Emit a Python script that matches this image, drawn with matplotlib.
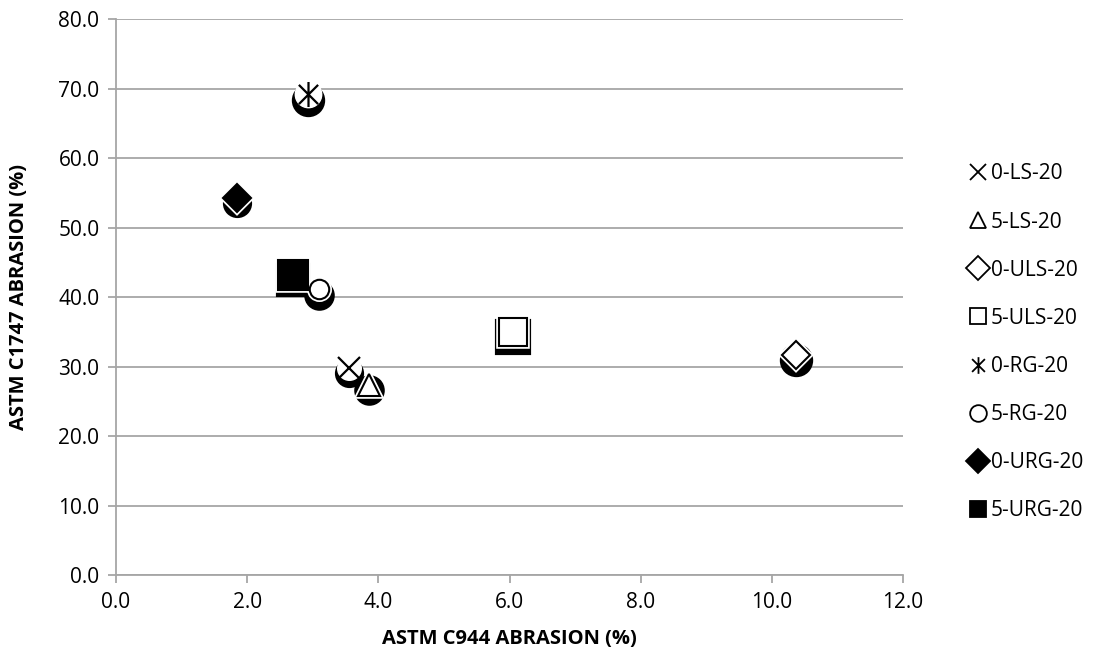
import matplotlib
matplotlib.use('Agg')
import matplotlib.pyplot as plt
import matplotlib.transforms as mtransforms
from matplotlib.path import Path
from matplotlib.lines import Line2D

series_names = ['0-LS-20', '5-LS-20', '0-ULS-20', '5-ULS-20',
                '0-RG-20', '5-RG-20', '0-URG-20', '5-URG-20']
c944_abrasion = [3.55, 3.85, 10.37, 6.06, 2.92, 3.10, 1.85, 2.70]
c1747_abrasion = [29.8, 27.4, 31.7, 35.0, 69.2, 41.1, 54.3, 43.2]

x_ticks = [0, 2, 4, 6, 8, 10, 12]
y_ticks = [0, 10, 20, 30, 40, 50, 60, 70, 80]

# excel style asterisk: X plus a vertical bar
asterisk = Path([(-1, -1), (1, 1), (-1, 1), (1, -1), (0, -1.3), (0, 1.3)],
                [Path.MOVETO, Path.LINETO, Path.MOVETO, Path.LINETO, Path.MOVETO, Path.LINETO])

# marker, filled, plot size, shadow marker, shadow size
styles = {
    '0-LS-20': ('x', False, 16, 'o', 18),
    '5-LS-20': ('^', False, 16, 'o', 19),
    '0-ULS-20': ('D', False, 14, 'o', 21),
    '5-ULS-20': ('s', False, 20, 's', 23),
    '0-RG-20': (asterisk, False, 18, 'o', 21),
    '5-RG-20': ('o', False, 14, 'o', 19),
    '0-URG-20': ('D', True, 14, 'o', 18),
    '5-URG-20': ('s', True, 21, 's', 22),
}

plt.rcParams['font.family'] = ['Open Sans', 'DejaVu Sans']

fig = plt.figure(figsize=(10.99, 6.62), dpi=100)
ax = fig.add_axes([0.1056, 0.1314, 0.7161, 0.8399])

grid_col = '#A6A6A6'
shadow_tr = ax.transData + mtransforms.ScaledTranslation(0, -4 / 72, fig.dpi_scale_trans)

for name, xv, yv in zip(series_names, c944_abrasion, c1747_abrasion):
    mk, filled, ms, smk, sms = styles[name]
    # black blob behind each point
    ax.plot([xv], [yv], linestyle='none', marker=smk, markersize=sms,
            markerfacecolor='black', markeredgecolor='black', markeredgewidth=3,
            transform=shadow_tr, zorder=3)
    face = 'black' if filled else 'white'
    line_mk = mk == 'x' or mk is asterisk
    if not line_mk:
        ax.plot([xv], [yv], linestyle='none', marker=mk, markersize=ms,
                markerfacecolor=face, markeredgecolor='white', markeredgewidth=4, zorder=4)
        ax.plot([xv], [yv], linestyle='none', marker=mk, markersize=ms,
                markerfacecolor=face, markeredgecolor='black', markeredgewidth=1.5, zorder=5)
    else:
        ax.plot([xv], [yv], linestyle='none', marker='o', markersize=ms + 1,
                markerfacecolor='white', markeredgecolor='white', zorder=4)
        ax.plot([xv], [yv], linestyle='none', marker=mk, markersize=ms,
                markeredgecolor='black', markeredgewidth=1.6, zorder=5)

ax.set_xlim(0, 12)
ax.set_ylim(0, 80)
ax.set_xticks(x_ticks)
ax.set_yticks(y_ticks)
ax.set_xticklabels([f'{v:.1f}' for v in x_ticks])
ax.set_yticklabels([f'{v:.1f}' for v in y_ticks])

ax.yaxis.grid(True, color=grid_col, linewidth=1.3)
ax.set_axisbelow(True)
for side in ['top', 'right']:
    ax.spines[side].set_visible(False)
for side in ['left', 'bottom']:
    ax.spines[side].set_color(grid_col)
    ax.spines[side].set_linewidth(1.3)
ax.tick_params(axis='both', direction='out', length=6, width=1.3, color=grid_col,
               labelsize=15, pad=6)

ax.set_xlabel('ASTM C944 ABRASION (%)', fontsize=14.5, fontweight='bold', labelpad=12)
ax.set_ylabel('ASTM C1747 ABRASION (%)', fontsize=14.5, fontweight='bold')
ax.yaxis.set_label_coords(-0.11, 0.5)

handles = []
for name in series_names:
    mk, filled, ms, smk, sms = styles[name]
    face = 'black' if filled else 'none'
    handles.append(Line2D([], [], linestyle='none', marker=mk, markersize=12,
                          markerfacecolor=face, markeredgecolor='black', markeredgewidth=1.3))
fig.legend(handles, series_names, loc='center left', bbox_to_anchor=(0.872, 0.483),
           frameon=False, fontsize=15, labelspacing=1.3, handletextpad=0.15,
           handlelength=0.9, borderpad=0)

fig.savefig('out.png', dpi=100)
